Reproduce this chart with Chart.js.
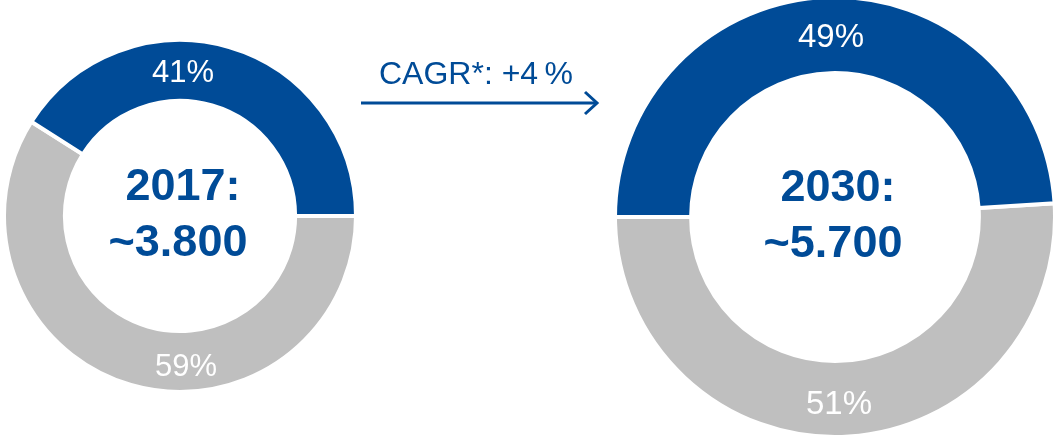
<!DOCTYPE html>
<html>
<head>
<meta charset="utf-8">
<script src="https://cdn.jsdelivr.net/npm/chart.js@4/dist/chart.umd.min.js"></script>
<style>
  html, body { margin: 0; padding: 0; background: #fff; overflow: hidden; }
  body { width: 1056px; height: 439px; position: relative; font-family: "Liberation Sans", Arial, sans-serif; }
  .box { position: absolute; }
  #cagr { position: absolute; left: 351px; top: 55px; width: 250px; text-align: center; color: #004b97; font-size: 32px; }
  #arrow { position: absolute; left: 355px; top: 88px; }
</style>
</head>
<body>
<div class="box" style="left:2px; top:38px; width:356px; height:356px;"><canvas id="left"></canvas></div>
<div class="box" style="left:613px; top:-5px; width:444px; height:444px;"><canvas id="right"></canvas></div>
<div id="cagr">CAGR*: +4&#8201;%</div>
<svg id="arrow" width="250" height="30">
  <line x1="6" y1="15" x2="242" y2="15" stroke="#004b97" stroke-width="3"/>
  <polyline points="230,4 242,15 230,26" fill="none" stroke="#004b97" stroke-width="3"/>
</svg>
<script>
// Data
const segments = ['Other', 'Share'];
const values2017 = [59, 41];
const values2030 = [51, 49];
const title2017 = ['2017:', '~3.800'];
const title2030 = ['2030:', '~5.700'];

const BLUE = '#004b97';
const GREY = '#bfbfbf';

// draws the percent labels on the ring and the two centre lines
const donutText = {
    id: 'donutText',
    afterDatasetsDraw(chart, args, opts) {
        const ctx = chart.ctx;
        const arc = chart.getDatasetMeta(0).data[0];
        const cx = arc.x, cy = arc.y;
        const mid = (arc.outerRadius + arc.innerRadius) / 2;
        const vals = chart.data.datasets[0].data;
        ctx.save();
        ctx.textAlign = 'center';
        ctx.textBaseline = 'middle';
        ctx.fillStyle = '#fff';
        ctx.font = opts.pctSize + 'px "Liberation Sans", Arial, sans-serif';
        ctx.fillText(vals[1] + '%', cx + opts.dx[0], cy - mid + 3);
        ctx.fillText(vals[0] + '%', cx + opts.dx[1], cy + mid + 6);
        ctx.fillStyle = BLUE;
        ctx.font = 'bold 45px "Liberation Sans", Arial, sans-serif';
        ctx.fillText(opts.lines[0], cx + 3, cy - 28);
        ctx.fillText(opts.lines[1], cx - 2, cy + 28);
        ctx.restore();
    }
};

function makeDonut(id, values, lines, rotation, pctSize, dx) {
    return new Chart(document.getElementById(id), {
        type: 'doughnut',
        data: {
            labels: segments,
            datasets: [{
                data: values,
                backgroundColor: [GREY, BLUE],
                borderColor: '#fff',
                borderWidth: 4
            }]
        },
        options: {
            responsive: true,
            maintainAspectRatio: false,
            animation: false,
            cutout: '65.4%',
            rotation: rotation,
            layout: { padding: 0 },
            plugins: {
                legend: { display: false },
                tooltip: { enabled: false },
                donutText: { lines: lines, pctSize: pctSize, dx: dx }
            }
        },
        plugins: [donutText]
    });
}

makeDonut('left', values2017, title2017, 90, 31, [3, 6]);
makeDonut('right', values2030, title2030, 86.4, 33, [-4, 4]);
</script>
</body>
</html>
